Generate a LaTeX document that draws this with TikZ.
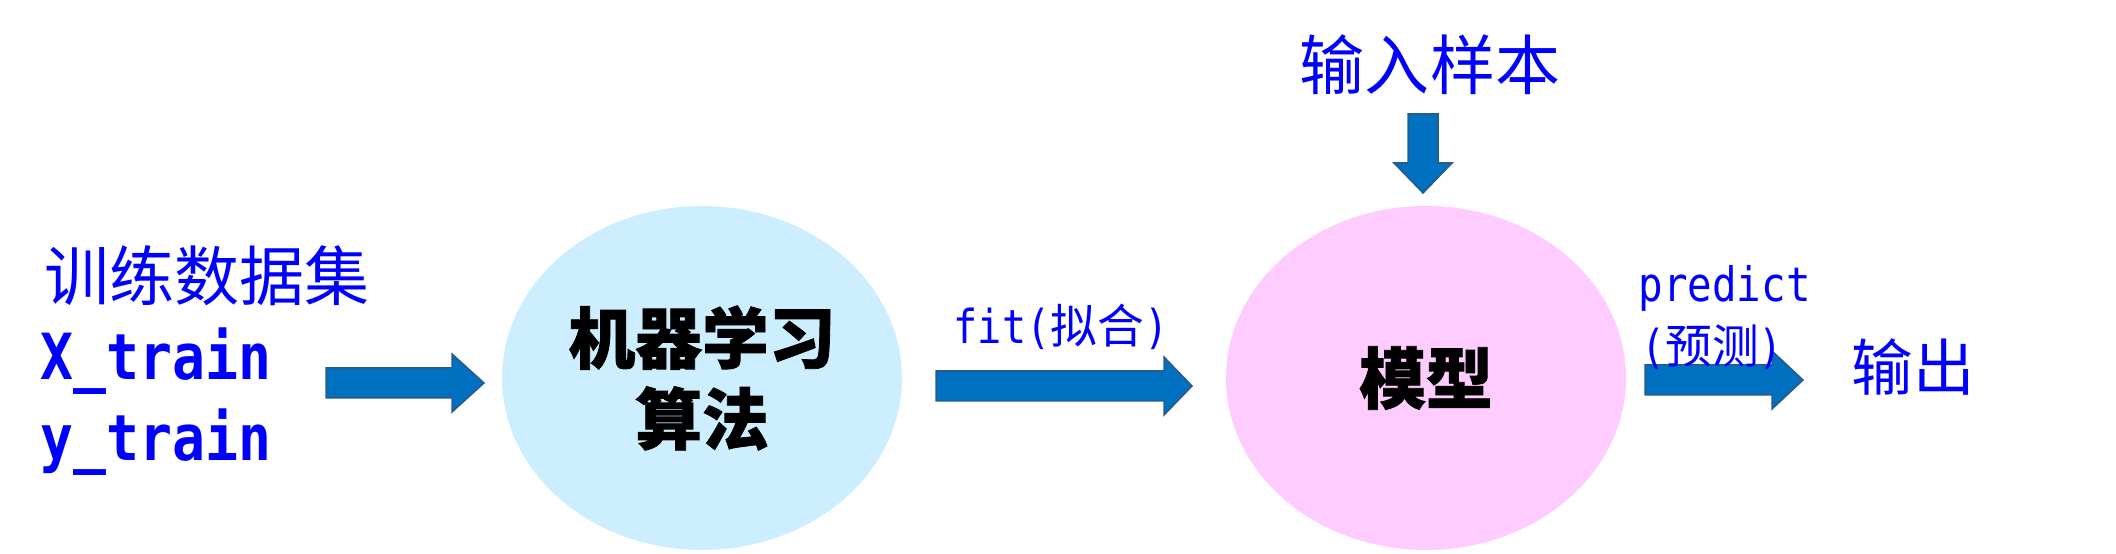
\documentclass[tikz,border=0pt]{standalone}
\usepackage{fontspec}
\usetikzlibrary{shapes.geometric}
\newfontfamily\cjk[BoldFeatures={FakeBold=1.2}]{Noto Sans CJK SC}
\newfontfamily\mono[FakeStretch=0.86]{DejaVu Sans Mono}
\definecolor{algofill}{RGB}{204,238,255}
\definecolor{modelfill}{RGB}{255,204,255}
\definecolor{arrowfill}{RGB}{0,112,192}
\definecolor{arrowline}{RGB}{40,90,140}
\definecolor{labelblue}{RGB}{0,0,255}
\tikzset{
  blob/.style={ellipse, minimum width=4cm, minimum height=3.44cm, inner sep=0,
    align=center, font=\cjk\bfseries\fontsize{19}{23}\selectfont},
  bluetext/.style={inner sep=0, text=labelblue},
  pics/flowarrow/.style args={#1/#2}{code={
    \filldraw[fill=arrowfill, draw=arrowline, line width=0.15mm]
      (0,-15) -- (#1,-15) -- (#1,-29) -- (#2,0) -- (#1,29) -- (#1,15) -- (0,15) -- cycle;
  }}
}
\begin{document}
\begin{tikzpicture}[x=0.1mm, y=-0.1mm]
      \useasboundingbox (0,0) rectangle (2116,554);
      % the two ellipses
      \node[blob, fill=algofill] (algo) at (702,378) {机器学习\\算法};
      \node[blob, fill=modelfill] (model) at (1426,378) {模型};
      % block arrows
      \pic at (326,383) {flowarrow=126/158};
      \pic at (936,386) {flowarrow=228/256};
      \pic at (1645,380) {flowarrow=127/158};
      \pic[rotate=-90] at (1423,114) {flowarrow=49/79};
      % blue labels
      \node[bluetext, anchor=west, font=\cjk\fontsize{18.5}{20}\selectfont] (trainset) at (44,276) {训练数据集};
      \node[bluetext, anchor=base west, font=\mono\bfseries\fontsize{18.1}{20}\selectfont] (xtrain) at (40,380) {X\_train};
      \node[bluetext, anchor=base west, font=\mono\bfseries\fontsize{18.1}{20}\selectfont] (ytrain) at (40,460) {y\_train};
      \node[bluetext, font=\cjk\fontsize{18.5}{20}\selectfont] (sample) at (1430,65) {输入样本};
      \node[bluetext, anchor=base west, font=\fontsize{13.3}{15}\selectfont] (fitlabel) at (953,344) {\mono fit(\cjk 拟合\mono )};
      \node[bluetext, anchor=base west, font=\mono\fontsize{13.5}{15}\selectfont] (predictlabel) at (1638,302) {predict};
      \node[bluetext, font=\fontsize{13.3}{15}\selectfont] (predictcn) at (1712,347) {\mono(\cjk 预测\mono)};
      \node[bluetext, font=\cjk\fontsize{17.5}{20}\selectfont] (output) at (1913,367) {输出};
\end{tikzpicture}
\end{document}
